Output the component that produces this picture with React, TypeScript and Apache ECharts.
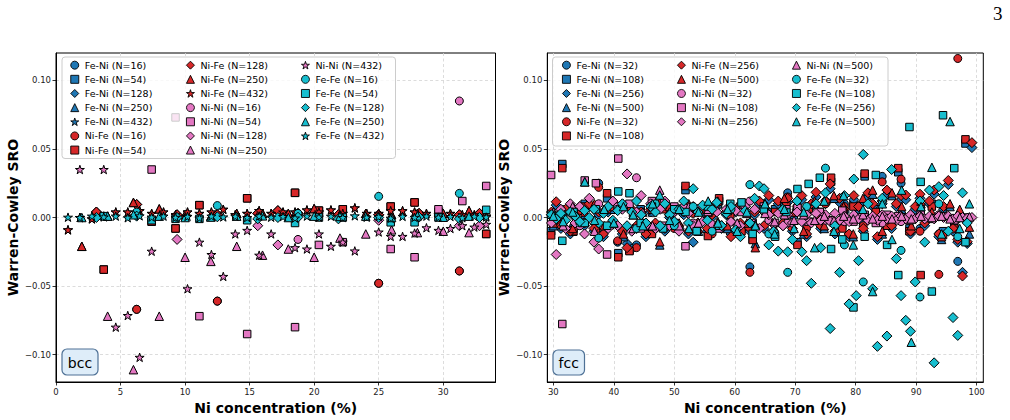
import React, { useEffect, useRef } from 'react';
import * as echarts from 'echarts';

type Pt = [number, number];

// ---------------- bcc cells: Warren-Cowley SRO vs Ni concentration (%) ----------------
const bccNiFe16: Pt[] = [[6.25, -0.067], [12.5, -0.061], [18.75, 0.002], [25.0, -0.048], [31.25, -0.039]];
const bccNiFe54: Pt[] = [
  [3.70, -0.038], [7.41, -0.003], [9.26, -0.008], [11.11, 0.009], [14.81, 0.014], [18.52, 0.018],
  [20.37, 0.005], [22.22, 0.006], [25.93, 0.008], [27.78, 0.011], [29.63, 0.004], [33.33, -0.012],
];
const bccNiFe128: Pt[] = [
  [3.13, 0.004], [6.25, 0.0095], [9.38, 0.002], [12.5, 0.002], [15.63, 0.003], [17.19, 0.005],
  [18.75, 0.003], [21.88, 0.002], [25.0, 0.002], [28.13, 0.003], [31.25, 0.002], [32.81, 0.003],
];
const bccNiFe250: Pt[] = [
  [2.0, -0.021], [4.0, 0.001], [6.0, 0.011], [8.0, 0.0063], [10.0, 0.002], [12.0, 0.001], [14.0, 0.003],
  [16.0, 0.003], [18.0, 0.003], [20.0, 0.0065], [22.0, 0.002], [24.0, 0.003], [26.0, 0.002], [28.0, 0.003],
  [30.0, 0.003], [32.0, 0.005],
];
const bccNiFe432: Pt[] = [
  [0.93, -0.009], [1.85, 0.000], [2.78, -0.001], [3.70, 0.001], [4.63, 0.004], [5.56, 0.004], [6.48, 0.005],
  [7.41, 0.003], [8.33, 0.004], [9.26, 0.002], [10.19, 0.004], [11.11, 0.003], [12.04, 0.004], [12.96, 0.006],
  [13.89, 0.002], [14.81, 0.003], [15.74, 0.005], [16.67, 0.003], [17.59, 0.004], [18.52, 0.004], [19.44, 0.0055],
  [20.37, 0.004], [21.30, 0.0055], [22.22, 0.003], [23.15, 0.007], [24.07, 0.003], [25.0, 0.003], [25.93, 0.005],
  [26.85, 0.005], [27.78, 0.004], [28.70, 0.003], [29.63, 0.002], [30.56, 0.003], [31.48, 0.002], [32.41, 0.002],
  [33.33, 0.001],
];
// In the bcc cells the unlike-pair parameters coincide, α(Fe-Ni) = α(Ni-Fe).
const bccFeNi16 = bccNiFe16;
const bccFeNi54 = bccNiFe54;
const bccFeNi128 = bccNiFe128;
const bccFeNi250 = bccNiFe250;
const bccFeNi432 = bccNiFe432;

const bccNiNi16: Pt[] = [[18.75, -0.016], [31.25, 0.085]];
const bccNiNi54: Pt[] = [
  [7.41, 0.035], [9.26, 0.073], [11.11, -0.072], [14.81, -0.085], [18.52, -0.080], [20.37, -0.020],
  [22.22, -0.018], [25.93, -0.023], [27.78, -0.029], [29.63, 0.006], [31.48, 0.012], [33.33, 0.023],
];
const bccNiNi128: Pt[] = [[9.38, -0.016], [15.63, -0.006], [17.19, -0.020], [25.0, -0.002], [31.25, -0.006], [32.81, -0.006]];
const bccNiNi250: Pt[] = [
  [4.0, -0.072], [6.0, -0.111], [8.0, -0.072], [10.0, -0.029], [12.0, -0.032], [14.0, -0.021], [16.0, -0.0275],
  [18.0, -0.023], [20.0, -0.029], [22.0, -0.015], [24.0, -0.012], [26.0, -0.009], [28.0, -0.011], [30.0, -0.010],
  [32.0, -0.011],
];
const bccNiNi432: Pt[] = [
  [1.85, 0.035], [3.70, 0.035], [4.63, -0.080], [5.56, -0.0715], [6.48, -0.102], [7.41, -0.0246], [10.19, -0.052],
  [11.11, -0.018], [12.04, -0.027], [12.96, -0.043], [13.89, -0.012], [14.81, -0.0094], [15.74, -0.0275],
  [16.67, -0.012], [18.52, -0.022], [19.44, -0.023], [20.37, -0.012], [21.30, -0.021], [22.22, -0.018],
  [23.15, -0.0244], [25.0, -0.0106], [25.93, -0.0138], [26.85, -0.0138], [27.78, -0.0114], [28.70, -0.0075],
  [29.63, -0.0094], [30.56, -0.008], [31.48, -0.006], [32.41, -0.007], [33.33, -0.005],
];

const bccFeFe16: Pt[] = [[6.25, 0.004], [12.5, 0.0087], [18.75, 0.003], [25.0, 0.0154], [31.25, 0.0176]];
const bccFeFe54: Pt[] = [
  [3.70, 0.001], [7.41, -0.002], [9.26, -0.001], [11.11, -0.001], [14.81, -0.002], [18.52, -0.004],
  [20.37, 0.000], [22.22, 0.000], [25.93, -0.0035], [27.78, -0.0035], [29.63, 0.000], [33.33, 0.0056],
];
const bccFeFe128: Pt[] = [
  [3.13, 0.000], [6.25, 0.001], [9.38, 0.000], [12.5, 0.0005], [15.63, -0.001], [17.19, 0.000],
  [18.75, 0.0002], [21.88, -0.001], [25.0, 0.000], [28.13, 0.0003], [31.25, -0.001], [32.81, 0.000],
];
const bccFeFe250: Pt[] = [
  [2.0, 0.000], [4.0, 0.001], [6.0, 0.002], [8.0, 0.001], [10.0, 0.000], [12.0, 0.0003], [14.0, 0.001],
  [16.0, 0.0012], [18.0, 0.000], [20.0, 0.001], [22.0, 0.0008], [24.0, 0.001], [26.0, 0.000], [28.0, 0.0012],
  [30.0, 0.0002], [32.0, 0.001],
];
const bccFeFe432: Pt[] = [
  [0.93, 0.0002], [1.85, 0.000], [2.78, 0.001], [3.70, 0.0004], [4.63, 0.001], [5.56, -0.0002], [6.48, 0.0012],
  [7.41, 0.0003], [8.33, 0.001], [9.26, 0.0001], [10.19, 0.0008], [11.11, -0.0003], [12.04, 0.001],
  [12.96, 0.0004], [13.89, 0.0009], [14.81, 0.000], [15.74, 0.0011], [16.67, 0.0002], [17.59, 0.0007],
  [18.52, -0.0004], [19.44, 0.001], [20.37, 0.0003], [21.30, 0.0009], [22.22, 0.000], [23.15, 0.0012],
  [24.07, 0.0002], [25.0, 0.0006], [25.93, -0.0005], [26.85, 0.0008], [27.78, 0.0001], [28.70, 0.0010],
  [29.63, 0.0002], [30.56, 0.0007], [31.48, -0.0002], [32.41, 0.0009], [33.33, 0.0003],
];

// ---------------- fcc cells ----------------
const fccFeNi32: Pt[] = [
  [31.25, -0.004], [34.38, 0.006], [37.5, 0.025], [40.63, -0.018], [43.75, -0.020], [46.88, 0.008], [50.0, -0.006],
  [53.13, 0.004], [56.25, -0.010], [59.38, 0.006], [62.5, -0.036], [65.63, 0.004], [68.75, 0.018], [71.88, -0.006],
  [75.0, 0.012], [78.13, 0.010], [81.25, -0.004], [84.38, 0.030], [87.5, 0.025], [90.63, -0.008], [93.75, -0.012],
  [96.88, -0.032],
];
const fccNiFe32: Pt[] = [
  [31.25, -0.005], [34.38, 0.005], [37.5, 0.022], [40.63, -0.017], [43.75, -0.022], [46.88, 0.006], [50.0, -0.008],
  [53.13, 0.003], [56.25, -0.012], [59.38, 0.004], [62.5, -0.040], [65.63, 0.002], [68.75, 0.015], [71.88, -0.008],
  [75.0, 0.010], [78.13, 0.008], [81.25, -0.006], [84.38, 0.026], [87.5, 0.028], [90.63, -0.010], [93.75, -0.0415],
  [96.88, 0.116],
];
const fccNiNi32: Pt[] = [
  [31.25, 0.004], [34.38, -0.006], [37.5, 0.010], [40.63, 0.008], [43.75, 0.029], [46.88, -0.008], [50.0, 0.006],
  [53.13, -0.004], [56.25, 0.005], [59.38, -0.003], [62.5, 0.012], [65.63, -0.002], [68.75, -0.004], [71.88, 0.003],
  [75.0, -0.002], [78.13, -0.003], [81.25, 0.001], [84.38, -0.004], [87.5, -0.003], [90.63, 0.001], [93.75, 0.002],
  [96.88, -0.001],
];
const fccFeFe32: Pt[] = [
  [31.25, 0.002], [34.38, -0.004], [37.5, -0.015], [40.63, 0.006], [43.75, -0.008], [46.88, 0.010], [50.0, -0.006],
  [53.13, 0.008], [56.25, -0.010], [59.38, 0.006], [62.5, 0.024], [65.63, -0.012], [68.75, -0.040], [71.88, 0.008],
  [75.0, 0.036], [78.13, -0.020], [81.25, -0.047], [84.38, 0.012], [87.5, -0.024], [90.63, -0.058], [93.75, 0.010],
  [96.88, -0.014],
];

const fccFeNi108: Pt[] = [
  [29.63, -0.010], [31.48, 0.039], [33.33, -0.008], [35.19, 0.010], [37.04, -0.006], [38.89, 0.014], [40.74, -0.026],
  [42.59, -0.024], [44.44, 0.006], [46.30, -0.010], [48.15, 0.008], [50.0, -0.004], [51.85, 0.020], [53.70, -0.006],
  [55.56, -0.011], [57.41, 0.012], [59.26, 0.004], [61.11, -0.008], [62.96, -0.016], [64.81, 0.010], [66.67, 0.006],
  [68.52, 0.012], [70.37, -0.018], [72.22, 0.008], [74.07, 0.004], [75.93, 0.026], [77.78, -0.006], [79.63, 0.010],
  [81.48, 0.030], [83.33, 0.006], [85.19, -0.004], [87.04, 0.033], [88.89, -0.008], [90.74, 0.004], [92.59, 0.010],
  [94.44, -0.010], [96.30, -0.006], [98.15, 0.054],
];
const fccNiFe108: Pt[] = [
  [29.63, -0.013], [31.48, 0.036], [33.33, -0.010], [35.19, 0.008], [37.04, -0.008], [38.89, 0.0177], [40.74, -0.029],
  [42.59, -0.0245], [44.44, 0.004], [46.30, -0.012], [48.15, 0.006], [50.0, -0.006], [51.85, 0.023], [53.70, -0.008],
  [55.56, -0.0135], [57.41, 0.014], [59.26, 0.002], [61.11, -0.010], [62.96, -0.0164], [64.81, 0.008], [66.67, 0.004],
  [68.52, 0.010], [70.37, -0.020], [72.22, 0.006], [74.07, 0.002], [75.93, 0.029], [77.78, -0.008], [79.63, 0.008],
  [81.48, 0.032], [83.33, 0.004], [85.19, -0.006], [87.04, 0.036], [88.89, -0.010], [90.74, -0.042], [92.59, 0.008],
  [94.44, -0.0128], [96.30, -0.008], [98.15, 0.057],
];
const fccNiNi108: Pt[] = [
  [29.63, 0.031], [31.48, -0.0777], [33.33, 0.006], [35.19, 0.027], [37.04, 0.025], [38.89, -0.027], [40.74, 0.043],
  [42.59, 0.010], [44.44, -0.008], [46.30, 0.012], [48.15, -0.006], [50.0, 0.008], [51.85, -0.021], [53.70, 0.006],
  [55.56, 0.004], [57.41, -0.008], [59.26, 0.006], [61.11, 0.004], [62.96, -0.004], [64.81, 0.008], [66.67, -0.004],
  [68.52, 0.006], [70.37, 0.007], [72.22, -0.003], [74.07, 0.004], [75.93, -0.002], [77.78, 0.005], [79.63, -0.003],
  [81.48, 0.002], [83.33, -0.004], [85.19, 0.002], [87.04, 0.001], [88.89, -0.002], [90.74, 0.002], [92.59, -0.001],
  [94.44, 0.001], [96.30, -0.002], [98.15, 0.000],
];
const fccFeFe108: Pt[] = [
  [29.63, 0.002], [31.48, -0.017], [33.33, 0.004], [35.19, -0.004], [37.04, 0.006], [38.89, -0.006], [40.74, 0.019],
  [42.59, 0.0177], [44.44, -0.004], [46.30, 0.008], [48.15, -0.008], [50.0, 0.006], [51.85, 0.004], [53.70, -0.010],
  [55.56, 0.008], [57.41, -0.006], [59.26, 0.010], [61.11, 0.011], [62.96, -0.012], [64.81, 0.006], [66.67, -0.014],
  [68.52, 0.004], [70.37, 0.0208], [72.22, 0.0245], [74.07, 0.029], [75.93, -0.023], [77.78, -0.016], [79.63, -0.0656],
  [81.48, -0.014], [83.33, 0.031], [85.19, -0.020], [87.04, -0.042], [88.89, 0.066], [90.74, 0.026], [92.59, -0.054],
  [94.44, 0.0746], [96.30, 0.036], [98.15, -0.018],
];

const fccFeNi256: Pt[] = [
  [29.69, 0.002], [30.47, 0.009], [31.25, -0.008], [32.03, 0.004], [32.81, -0.012], [33.59, 0.000], [34.38, 0.006],
  [35.16, -0.006], [35.94, 0.008], [36.72, -0.010], [37.5, 0.002], [38.28, -0.014], [39.06, 0.004], [39.84, -0.005],
  [40.63, 0.006], [41.41, -0.012], [42.19, -0.019], [42.97, -0.023], [43.75, -0.008], [44.53, 0.002], [45.31, -0.014],
  [46.09, 0.004], [46.88, -0.006], [47.66, 0.008], [48.44, -0.010], [49.22, 0.000], [50.0, 0.004], [50.78, -0.008],
  [51.56, 0.002], [52.34, -0.012], [53.13, -0.018], [53.91, -0.006], [54.69, 0.004], [55.47, -0.010], [56.25, 0.000],
  [57.03, 0.008], [57.81, -0.008], [58.59, 0.002], [59.38, -0.012], [60.16, 0.004], [60.94, -0.006], [61.72, 0.008],
  [62.5, -0.010], [63.28, 0.002], [64.06, 0.010], [64.84, -0.008], [65.63, 0.013], [66.41, -0.012], [67.19, 0.010],
  [67.97, -0.006], [68.75, 0.011], [69.53, -0.010], [70.31, 0.006], [71.09, 0.013], [71.88, -0.014], [72.66, 0.008],
  [73.44, 0.015], [74.22, -0.008], [75.0, 0.010], [75.78, 0.021], [76.56, -0.012], [77.34, 0.011], [78.13, 0.004],
  [78.91, -0.014], [79.69, 0.013], [80.47, 0.006], [81.25, -0.010], [82.03, 0.015], [82.81, 0.008], [83.59, -0.016],
  [84.38, 0.010], [85.16, 0.017], [85.94, -0.008], [86.72, 0.008], [87.5, 0.013], [88.28, 0.013], [89.06, -0.012],
  [89.84, 0.006], [90.63, 0.014], [91.41, -0.006], [92.19, 0.010], [92.97, 0.017], [93.75, -0.014], [94.53, 0.006],
  [95.31, 0.024], [96.09, -0.010], [96.88, -0.018], [97.66, -0.040], [98.44, -0.019], [99.22, 0.051],
];
const fccNiFe256: Pt[] = [
  [29.69, 0.004], [30.47, 0.0115], [31.25, -0.006], [32.03, 0.006], [32.81, -0.010], [33.59, 0.002], [34.38, 0.008],
  [35.16, -0.004], [35.94, 0.010], [36.72, -0.008], [37.5, 0.004], [38.28, -0.012], [39.06, 0.006], [39.84, -0.003],
  [40.63, 0.008], [41.41, -0.010], [42.19, -0.022], [42.97, 0.006], [43.75, -0.006], [44.53, 0.004], [45.31, -0.012],
  [46.09, 0.006], [46.88, -0.004], [47.66, 0.010], [48.44, -0.008], [49.22, 0.002], [50.0, 0.006], [50.78, -0.006],
  [51.56, 0.004], [52.34, -0.010], [53.13, 0.008], [53.91, -0.004], [54.69, 0.006], [55.47, -0.008], [56.25, 0.002],
  [57.03, 0.010], [57.81, -0.006], [58.59, 0.004], [59.38, -0.014], [60.16, 0.006], [60.94, -0.004], [61.72, 0.010],
  [62.5, -0.008], [63.28, 0.004], [64.06, 0.012], [64.84, -0.006], [65.63, 0.016], [66.41, -0.010], [67.19, 0.012],
  [67.97, -0.004], [68.75, 0.014], [69.53, -0.008], [70.31, 0.008], [71.09, 0.016], [71.88, -0.012], [72.66, 0.010],
  [73.44, 0.0184], [74.22, -0.006], [75.0, 0.012], [75.78, 0.0245], [76.56, -0.010], [77.34, 0.014], [78.13, 0.006],
  [78.91, -0.012], [79.69, 0.016], [80.47, 0.008], [81.25, -0.008], [82.03, 0.018], [82.81, 0.010], [83.59, -0.014],
  [84.38, 0.012], [85.16, 0.020], [85.94, -0.006], [86.72, 0.010], [87.5, 0.016], [88.28, 0.0164], [89.06, -0.010],
  [89.84, 0.008], [90.63, 0.017], [91.41, -0.004], [92.19, 0.012], [92.97, 0.020], [93.75, -0.012], [94.53, 0.008],
  [95.31, 0.027], [96.09, -0.008], [96.88, -0.016], [97.66, -0.0427], [98.44, -0.0177], [99.22, 0.0546],
];
const fccNiNi256: Pt[] = [
  [29.69, -0.004], [30.47, -0.027], [31.25, 0.006], [32.03, -0.008], [32.81, 0.010], [33.59, -0.004], [34.38, 0.008],
  [35.16, -0.012], [35.94, 0.014], [36.72, -0.018], [37.5, -0.023], [38.28, 0.004], [39.06, -0.008], [39.84, 0.012],
  [40.63, -0.006], [41.41, 0.006], [42.19, 0.0318], [42.97, -0.010], [43.75, 0.004], [44.53, 0.016], [45.31, -0.006],
  [46.09, 0.010], [46.88, -0.008], [47.66, 0.006], [48.44, 0.012], [49.22, -0.006], [50.0, 0.004], [50.78, -0.010],
  [51.56, 0.008], [52.34, 0.003], [53.13, -0.006], [53.91, 0.006], [54.69, -0.003], [55.47, 0.008], [56.25, -0.005],
  [57.03, 0.004], [57.81, -0.006], [58.59, 0.006], [59.38, -0.003], [60.16, 0.005], [60.94, -0.006], [61.72, 0.008],
  [62.5, -0.004], [63.28, 0.006], [64.06, -0.008], [64.84, 0.004], [65.63, 0.002], [66.41, -0.005], [67.19, 0.003],
  [67.97, -0.006], [68.75, 0.002], [69.53, -0.004], [70.31, 0.004], [71.09, -0.003], [71.88, 0.002], [72.66, -0.004],
  [73.44, 0.003], [74.22, -0.002], [75.0, 0.002], [75.78, -0.003], [76.56, 0.003], [77.34, -0.002], [78.13, 0.001],
  [78.91, -0.003], [79.69, 0.002], [80.47, -0.001], [81.25, 0.002], [82.03, -0.002], [82.81, 0.001], [83.59, -0.002],
  [84.38, 0.002], [85.16, -0.001], [85.94, 0.001], [86.72, -0.002], [87.5, 0.001], [88.28, -0.001], [89.06, 0.002],
  [89.84, -0.001], [90.63, 0.001], [91.41, -0.001], [92.19, 0.001], [92.97, -0.001], [93.75, 0.001], [94.53, 0.000],
  [95.31, 0.001], [96.09, -0.001], [96.88, 0.001], [97.66, 0.000], [98.44, -0.0005], [99.22, 0.000],
];
const fccFeFe256: Pt[] = [
  [29.69, 0.002], [30.47, -0.001], [31.25, 0.003], [32.03, -0.002], [32.81, 0.004], [33.59, 0.001], [34.38, -0.003],
  [35.16, 0.005], [35.94, 0.000], [36.72, 0.006], [37.5, -0.004], [38.28, 0.003], [39.06, 0.008], [39.84, -0.002],
  [40.63, 0.005], [41.41, 0.010], [42.19, -0.006], [42.97, 0.004], [43.75, 0.012], [44.53, 0.002], [45.31, -0.004],
  [46.09, 0.008], [46.88, 0.004], [47.66, -0.006], [48.44, 0.010], [49.22, 0.002], [50.0, -0.003], [50.78, 0.006],
  [51.56, 0.012], [52.34, -0.004], [53.13, 0.021], [53.91, 0.004], [54.69, 0.009], [55.47, -0.002], [56.25, 0.006],
  [57.03, 0.011], [57.81, -0.006], [58.59, 0.003], [59.38, 0.008], [60.16, -0.009], [60.94, -0.014], [61.72, 0.005],
  [62.5, -0.004], [63.28, 0.014], [64.06, 0.023], [64.84, 0.021], [65.63, -0.020], [66.41, -0.010], [67.19, -0.0245],
  [67.97, 0.006], [68.75, -0.025], [69.53, -0.016], [70.31, 0.012], [71.09, -0.025], [71.88, -0.0315], [72.66, -0.048],
  [73.44, 0.010], [74.22, -0.022], [75.0, 0.018], [75.78, -0.081], [76.56, -0.006], [77.34, -0.040], [78.13, 0.016],
  [78.91, -0.063], [79.69, 0.028], [80.08, -0.057], [80.47, -0.0315], [81.25, 0.046], [82.03, 0.010], [82.81, -0.052],
  [83.59, -0.094], [84.38, 0.014], [85.16, -0.0865], [85.94, 0.035], [86.72, -0.030], [87.5, -0.057], [88.28, -0.075],
  [89.06, -0.083], [89.84, -0.047], [90.63, 0.012], [91.41, -0.018], [92.19, 0.020], [92.97, -0.106], [93.75, 0.0225],
  [94.53, 0.016], [95.31, -0.010], [96.09, -0.073], [96.88, -0.086], [97.66, 0.018], [98.44, -0.004],
];

const fccFeNi500: Pt[] = [
  [30.0, -0.006], [31.6, 0.004], [33.2, -0.010], [35.2, 0.002], [36.8, 0.008], [38.4, -0.008], [40.0, 0.006],
  [41.6, -0.014], [43.2, 0.002], [44.8, -0.006], [46.4, 0.004], [47.6, -0.020], [49.2, 0.006], [50.8, -0.006],
  [52.4, 0.008], [54.0, -0.010], [55.6, 0.002], [57.2, 0.010], [58.8, -0.008], [60.4, 0.006], [62.0, -0.006],
  [63.4, -0.019], [65.0, 0.008], [66.6, -0.010], [68.2, 0.012], [69.8, 0.002], [71.4, -0.012], [73.2, 0.010],
  [74.8, -0.008], [76.4, 0.014], [78.0, 0.006], [79.6, -0.014], [81.2, 0.012], [82.8, 0.017], [84.4, -0.012],
  [86.0, 0.016], [87.6, 0.006], [89.2, -0.008], [90.8, 0.010], [92.6, 0.002], [94.2, -0.016], [95.6, 0.008],
  [97.2, 0.004], [98.8, -0.012],
];
const fccNiFe500: Pt[] = [
  [30.0, -0.004], [31.6, 0.006], [33.2, -0.008], [35.2, 0.004], [36.8, 0.010], [38.4, -0.006], [40.0, 0.008],
  [41.6, -0.012], [43.2, 0.004], [44.8, -0.004], [46.4, 0.006], [47.6, -0.0177], [49.2, 0.008], [50.8, -0.004],
  [52.4, 0.010], [54.0, -0.008], [55.6, 0.004], [57.2, 0.012], [58.8, -0.006], [60.4, 0.008], [62.0, -0.004],
  [63.4, -0.022], [65.0, 0.010], [66.6, -0.008], [68.2, 0.014], [69.8, 0.004], [71.4, -0.010], [73.2, 0.012],
  [74.8, -0.006], [76.4, 0.016], [78.0, 0.008], [79.6, -0.012], [81.2, 0.014], [82.8, 0.020], [84.4, -0.010],
  [86.0, 0.018], [87.6, 0.008], [89.2, -0.006], [90.8, 0.012], [92.6, 0.004], [94.2, -0.014], [95.6, 0.010],
  [97.2, 0.006], [98.8, -0.007],
];
const fccNiNi500: Pt[] = [
  [30.0, 0.004], [31.6, -0.006], [33.2, 0.008], [35.2, 0.026], [36.8, -0.010], [38.4, 0.006], [40.0, -0.004],
  [41.6, 0.010], [43.2, -0.008], [44.8, 0.004], [46.4, -0.006], [47.6, 0.020], [49.2, 0.004], [50.8, -0.006],
  [52.4, 0.008], [54.0, -0.004], [55.6, 0.006], [57.2, -0.003], [58.8, 0.005], [60.4, -0.004], [62.0, 0.003],
  [63.4, -0.005], [65.0, 0.003], [66.6, -0.003], [68.2, 0.002], [69.8, -0.002], [71.4, 0.002], [73.2, -0.002],
  [74.8, 0.001], [76.4, -0.002], [78.0, 0.001], [79.6, -0.001], [81.2, 0.002], [82.8, -0.001], [84.4, 0.001],
  [86.0, -0.001], [87.6, 0.001], [89.2, -0.001], [90.8, 0.001], [92.6, 0.000], [94.2, 0.001], [95.6, -0.001],
  [97.2, 0.000], [98.8, 0.0005],
];
const fccFeFe500: Pt[] = [
  [30.0, 0.001], [31.6, -0.003], [33.2, 0.004], [35.2, 0.026], [36.8, -0.002], [38.4, 0.006], [40.0, -0.004],
  [41.6, 0.008], [43.2, 0.002], [44.8, -0.006], [46.4, 0.010], [47.6, 0.0164], [49.2, -0.002], [50.8, 0.006],
  [52.4, -0.008], [54.0, 0.004], [55.6, 0.012], [57.2, -0.004], [58.8, 0.006], [60.4, -0.010], [62.0, 0.004],
  [63.4, -0.006], [65.0, 0.010], [66.6, -0.012], [68.2, 0.006], [69.8, -0.008], [71.4, 0.004], [73.2, -0.022],
  [74.8, 0.012], [76.4, -0.010], [78.0, 0.016], [79.6, -0.020], [81.2, 0.006], [82.8, -0.054], [84.4, 0.010],
  [86.0, -0.016], [87.6, 0.020], [89.2, -0.091], [90.8, 0.008], [92.6, 0.0366], [94.2, -0.012], [95.6, 0.070],
  [97.2, -0.008], [98.8, 0.010],
];

// ---------------- styling tables ----------------
const pairTypes = ['Fe-Ni', 'Ni-Fe', 'Ni-Ni', 'Fe-Fe'];
const pairColors: Record<string, string> = {
  'Fe-Ni': '#1f77b4',
  'Ni-Fe': '#d62728',
  'Ni-Ni': '#e377c2',
  'Fe-Fe': '#17becf',
};
const bccCellSizes = [16, 54, 128, 250, 432];
const fccCellSizes = [32, 108, 256, 500];

const bccSeriesData: Record<string, Pt[][]> = {
  'Fe-Ni': [bccFeNi16, bccFeNi54, bccFeNi128, bccFeNi250, bccFeNi432],
  'Ni-Fe': [bccNiFe16, bccNiFe54, bccNiFe128, bccNiFe250, bccNiFe432],
  'Ni-Ni': [bccNiNi16, bccNiNi54, bccNiNi128, bccNiNi250, bccNiNi432],
  'Fe-Fe': [bccFeFe16, bccFeFe54, bccFeFe128, bccFeFe250, bccFeFe432],
};
const fccSeriesData: Record<string, Pt[][]> = {
  'Fe-Ni': [fccFeNi32, fccFeNi108, fccFeNi256, fccFeNi500],
  'Ni-Fe': [fccNiFe32, fccNiFe108, fccNiFe256, fccNiFe500],
  'Ni-Ni': [fccNiNi32, fccNiNi108, fccNiNi256, fccNiNi500],
  'Fe-Fe': [fccFeFe32, fccFeFe108, fccFeFe256, fccFeFe500],
};

const yTicks = [-0.1, -0.05, 0, 0.05, 0.1];
const bccXTicks = [0, 5, 10, 15, 20, 25, 30];
const fccXTicks = [30, 40, 50, 60, 70, 80, 90, 100];

const STAR =
  'path://M100,0L122.45,69.1L195.1,69.1L136.3,111.8L158.8,180.9L100,138.2L41.2,180.9L63.7,111.8L4.9,69.1L77.55,69.1Z';
const markerShapes = ['circle', 'rect', 'diamond', 'triangle', STAR];
const markerSizes = [8, 7.5, 10, 8.5, 9];
// legend icons are drawn a little smaller than the plotted markers
const legendIconSizes = [6.5, 6, 8, 6.5, 7];

const FONT = 'DejaVu Sans';

const fmtY = (v: number) => (v < 0 ? '\u2212' : '') + Math.abs(v).toFixed(2);

function buildSeries(data: Record<string, Pt[][]>, sizes: number[], axisIndex: number) {
  const out: any[] = [];
  pairTypes.forEach((pair) => {
    sizes.forEach((n, i) => {
      out.push({
        type: 'scatter',
        name: `${pair} (N=${n})`,
        xAxisIndex: axisIndex,
        yAxisIndex: axisIndex,
        symbol: markerShapes[i],
        symbolSize: markerSizes[i],
        symbolKeepAspect: true,
        itemStyle: { color: pairColors[pair], borderColor: '#000', borderWidth: 1, opacity: 1 },
        emphasis: { disabled: true },
        data: data[pair][i],
      });
    });
  });
  return out;
}

type LegendEntry = { name: string; shape: number };

function legendEntries(sizes: number[]) {
  const entries: LegendEntry[] = [];
  pairTypes.forEach((p) => sizes.forEach((n, i) => entries.push({ name: `${p} (N=${n})`, shape: i })));
  return entries;
}

// One legend component per column and marker size, so every icon keeps the spacing of the frame.
function legendColumn(entries: LegendEntry[], markerCenterX: number) {
  const box = 8;
  return {
    orient: 'vertical',
    left: markerCenterX - box / 2,
    top: 58.1,
    padding: 0,
    itemGap: 0,
    itemWidth: box,
    itemHeight: box,
    symbolKeepAspect: true,
    selectedMode: false,
    data: entries.map((e) => ({
      name: e.name,
      icon: markerShapes[e.shape],
      itemStyle: { borderWidth: 0.9 },
    })),
    textStyle: {
      fontFamily: FONT,
      fontSize: 9.5,
      color: '#000',
      lineHeight: 14.15,
      padding: [0, 0, 0, 18 - box / 2 - box - 5],
    },
    z: 4,
  };
}

function xAxisOf(gridIndex: number, min: number, max: number, ticks: number[]) {
  return {
    type: 'value',
    gridIndex,
    min,
    max,
    name: 'Ni concentration (%)',
    nameLocation: 'middle',
    nameGap: 17,
    nameTextStyle: { fontFamily: FONT, fontWeight: 'bold', fontSize: 14, color: '#000' },
    axisLine: { show: true, onZero: false, lineStyle: { color: '#000', width: 1 } },
    axisTick: { show: true, length: 3.5, customValues: ticks, lineStyle: { color: '#000', width: 0.8 } },
    axisLabel: {
      customValues: ticks,
      margin: 5,
      fontFamily: FONT,
      fontSize: 8.5,
      color: '#222',
      formatter: (v: number) => String(v),
    },
    splitLine: { show: true, lineStyle: { color: '#d3d3d3', type: [3, 2.5], width: 0.8 } },
  };
}

function yAxisOf(gridIndex: number) {
  return {
    type: 'value',
    gridIndex,
    min: -0.12,
    max: 0.12,
    name: 'Warren-Cowley SRO',
    nameLocation: 'middle',
    nameGap: 36,
    nameTextStyle: { fontFamily: FONT, fontWeight: 'bold', fontSize: 14, color: '#000' },
    axisLine: { show: true, onZero: false, lineStyle: { color: '#000', width: 1 } },
    axisTick: { show: true, length: 3.5, customValues: yTicks, lineStyle: { color: '#000', width: 0.8 } },
    axisLabel: {
      customValues: yTicks,
      margin: 5,
      fontFamily: FONT,
      fontSize: 8.5,
      color: '#222',
      formatter: fmtY,
    },
    splitLine: { show: true, lineStyle: { color: '#d3d3d3', type: [3, 2.5], width: 0.8 } },
  };
}

function tagBox(x: number, y: number, w: number, h: number, label: string) {
  return {
    type: 'group',
    x,
    y,
    z: 5,
    children: [
      {
        type: 'rect',
        z: 5,
        shape: { x: 0, y: 0, width: w, height: h, r: 5 },
        style: { fill: '#deedf9', stroke: '#4e7196', lineWidth: 1.2 },
      },
      {
        type: 'text',
        z: 6,
        style: {
          text: label,
          x: w / 2,
          y: h / 2 + 0.5,
          align: 'center',
          verticalAlign: 'middle',
          font: `14px "${FONT}"`,
          fill: '#000',
        },
      },
    ],
  };
}

export default function App() {
  const ref = useRef<HTMLDivElement>(null);

  useEffect(() => {
    if (!ref.current) return;
    const chart = echarts.init(ref.current, undefined, { renderer: 'svg' });

    const bccEntries = legendEntries(bccCellSizes);
    const fccEntries = legendEntries(fccCellSizes);

    chart.setOption({
      animation: false,
      backgroundColor: '#fff',
      textStyle: { fontFamily: FONT },
      grid: [
        { left: 56, top: 53, width: 439.5, height: 329, show: true, borderColor: '#000', borderWidth: 1, backgroundColor: 'transparent' },
        { left: 547.3, top: 53, width: 436, height: 329, show: true, borderColor: '#000', borderWidth: 1, backgroundColor: 'transparent' },
      ],
      xAxis: [xAxisOf(0, 0, 34.05, bccXTicks), xAxisOf(1, 29, 101.1, fccXTicks)],
      yAxis: [yAxisOf(0), yAxisOf(1)],
      legend: [
        legendColumn(bccEntries.slice(0, 7), 74.3),
        legendColumn(bccEntries.slice(7, 14), 190),
        legendColumn(bccEntries.slice(14), 305),
        legendColumn(fccEntries.slice(0, 6), 566),
        legendColumn(fccEntries.slice(6, 11), 681),
        legendColumn(fccEntries.slice(11), 796),
      ],
      graphic: [
        {
          type: 'rect',
          z: 3,
          shape: { x: 62, y: 57, width: 333.5, height: 101.5, r: 3 },
          style: { fill: 'rgba(255,255,255,0.8)', stroke: '#cccccc', lineWidth: 1 },
        },
        {
          type: 'rect',
          z: 3,
          shape: { x: 552.5, y: 57, width: 335.5, height: 89, r: 3 },
          style: { fill: 'rgba(255,255,255,0.8)', stroke: '#cccccc', lineWidth: 1 },
        },
        tagBox(62, 349, 36, 26, 'bcc'),
        tagBox(553, 350, 31.5, 25, 'fcc'),
        {
          type: 'text',
          z: 5,
          style: { text: '3', x: 993, y: 4, font: '19px "Liberation Serif"', fill: '#000' },
        },
      ],
      series: [...buildSeries(bccSeriesData, bccCellSizes, 0), ...buildSeries(fccSeriesData, fccCellSizes, 1)],
    });

    return () => chart.dispose();
  }, []);

  return <div ref={ref} style={{ position: 'fixed', left: 0, top: 0, width: 1010, height: 420 }} />;
}
